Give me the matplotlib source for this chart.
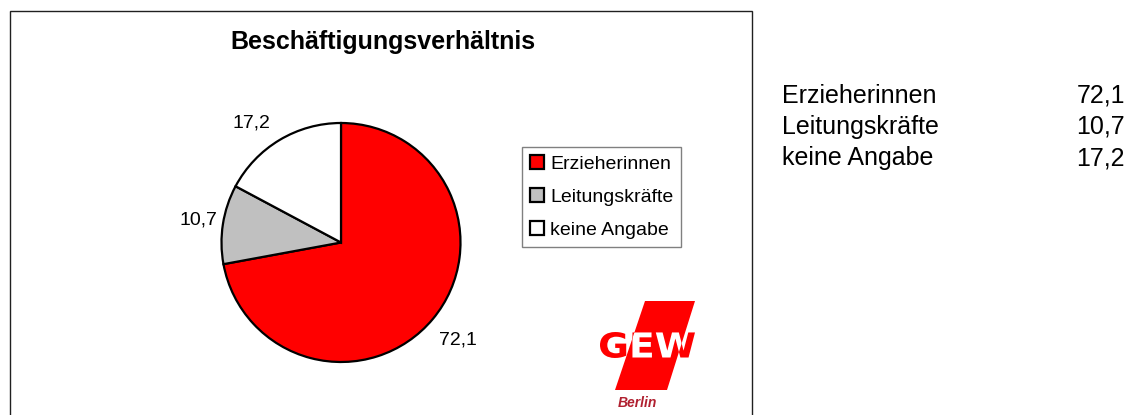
import numpy as np
import matplotlib
matplotlib.use("Agg")
import matplotlib.pyplot as plt
from matplotlib.patches import Rectangle, Polygon, PathPatch
from matplotlib.textpath import TextPath
from matplotlib.font_manager import FontProperties
from matplotlib.transforms import Affine2D

plt.rcParams['font.family'] = ['Liberation Sans', 'DejaVu Sans']

# Daten
categories = ['Erzieherinnen', 'Leitungskräfte', 'keine Angabe']
values = [72.1, 10.7, 17.2]
colors = ['#ff0000', '#c0c0c0', '#ffffff']
title = 'Beschäftigungsverhältnis'


def de(v):
    # deutsches Dezimalkomma
    return f'{v:.1f}'.replace('.', ',')


W, H = 1128, 415
fig = plt.figure(figsize=(W / 100, H / 100), dpi=100)
ax = fig.add_axes([0, 0, 1, 1])

# Kreis in Pixelkoordinaten (y nach oben)
cx, cy, r = 341, H - 242.5, 119.5
wedges, texts = ax.pie(values, colors=colors, startangle=90, counterclock=False,
                       center=(cx, cy), radius=r, labels=[de(v) for v in values],
                       labeldistance=1.2, frame=False,
                       wedgeprops=dict(edgecolor='black', linewidth=1.6),
                       textprops=dict(fontsize=14))

# Beschriftungen etwas anders als Standard verteilen (wie Excel)
dists = [1.27, 1.21, 1.25]
shift = [0, 0, 6]
for w, t, d, s in zip(wedges, texts, dists, shift):
    ang = np.deg2rad((w.theta1 + w.theta2) / 2 + s)
    t.set_position((cx + d * r * np.cos(ang), cy + d * r * np.sin(ang)))
    t.set_ha('center')
    t.set_va('center')

ax.set_xlim(0, W)
ax.set_ylim(0, H)
ax.set_aspect('equal')
ax.axis('off')

# Rahmen des Diagramms
ax.add_patch(Rectangle((10, -20), 742, H - 11 + 20, fill=False,
                       edgecolor='#202020', linewidth=1.0, clip_on=False))

ax.text(383, H - 42, title, fontsize=18, fontweight='bold', ha='center', va='center')

leg = fig.legend(wedges, categories, loc='upper left',
                 bbox_to_anchor=(522 / W, 1 - 147 / H), fontsize=14,
                 frameon=True, fancybox=False, borderpad=0.4,
                 handlelength=0.75, handleheight=0.75, handletextpad=0.3,
                 labelspacing=0.78, borderaxespad=0)
leg.get_frame().set_edgecolor('#606060')
leg.get_frame().set_linewidth(1.0)

# GEW-Logo (vereinfacht)
logo = Polygon([(645, H - 301), (695, H - 301), (667, H - 390), (615, H - 390)],
               closed=True, facecolor='#ff0000', edgecolor='none')
ax.add_patch(logo)
tp = TextPath((0, 0), 'GEW', size=36, prop=FontProperties(family='DejaVu Sans', weight='bold'))
bb = tp.get_extents()
tr = Affine2D().translate(-bb.x0, -bb.y0).scale(95 / bb.width, 26 / bb.height).translate(600, H - 358)
gew_path = tr.transform_path(tp)
ax.add_patch(PathPatch(gew_path, facecolor='#ff0000', edgecolor='none'))
inner = PathPatch(gew_path, facecolor='white', edgecolor='none')
ax.add_patch(inner)
inner.set_clip_path(logo)
ax.text(637, H - 403, 'Berlin', fontsize=10, fontweight='bold', style='italic',
        color='#b02030', ha='center', va='center')

# Tabelle rechts
for i, (c, v) in enumerate(zip(categories, values)):
    y = H - (102.7 + i * 31.2)
    ax.text(782, y, c, fontsize=18, ha='left', va='baseline')
    ax.text(1125, y, de(v), fontsize=18, ha='right', va='baseline')

fig.savefig('out.png', dpi=100)
